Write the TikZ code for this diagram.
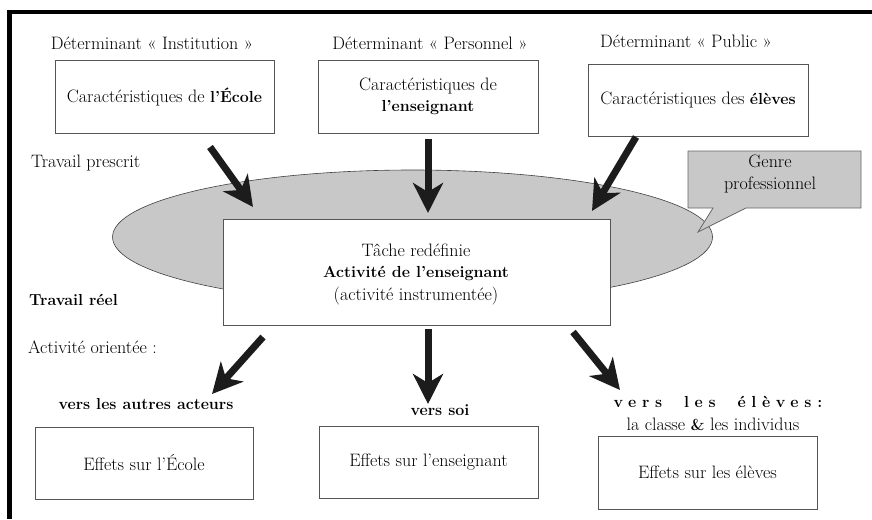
\documentclass[tikz,border=0pt]{standalone}
\usepackage{fontspec}
\setmainfont{Latin Modern Roman}
\usetikzlibrary{arrows.meta,shapes.geometric}
\definecolor{ellgray}{HTML}{C8C8C8}
\definecolor{boxline}{HTML}{555555}
\definecolor{arrowcol}{HTML}{1C1C1C}
\newcommand\bx[1]{{\fontsize{16}{20}\selectfont\bfseries #1}}
\tikzset{
  every node/.style={font=\fontsize{18}{21.5}\selectfont, inner sep=0pt},
  box/.style={draw=boxline, line width=0.8pt, fill=white, align=center},
  bigarrow/.style={draw=arrowcol, line width=7pt, -{Stealth[length=30pt,width=30pt,inset=9pt]}},
  lbl/.style={align=center},
  lftlbl/.style={anchor=west},
}
\begin{document}
\begin{tikzpicture}[x=1pt,y=-1pt]
\useasboundingbox (0,0) rectangle (872,519);
% frame (top and left only)
\draw[line width=4.5pt] (872,12) -- (9.5,12) -- (9.5,519);

% top labels
\node[lbl] (d1) at (152,43) {Déterminant « Institution »};
\node[lbl] (d2) at (430,43) {Déterminant « Personnel »};
\node[lbl] (d3) at (686,41) {Déterminant « Public »};

% top boxes
\node[box, minimum width=219pt, minimum height=73pt] (b1) at (164.5,96.5) {Caractéristiques de \bx{l’École}};
\node[box, minimum width=220pt, minimum height=73pt] (b2) at (428,96.5) {Caractéristiques de\\ \bx{l’enseignant}};
\node[box, minimum width=220pt, minimum height=72pt] (b3) at (698,100) {Caractéristiques des \bx{élèves}};

\node[lftlbl] (tp) at (31,163) {Travail prescrit};

% ellipse
\node[ellipse, draw=black!75, line width=0.6pt, fill=ellgray, minimum width=600pt, minimum height=134pt] (ell) at (412.5,237) {};

% genre professionnel callout
\draw[draw=gray!80!black, line width=0.8pt, fill=ellgray]
  (688,151) -- (861,151) -- (861,208) -- (746,208) -- (698,232) -- (713,208) -- (688,208) -- cycle;
\node[lbl] (gp) at (770,174) {Genre\\ professionnel};

% central box
\node[box, minimum width=387pt, minimum height=106pt] (cb) at (416.5,272) {};
\node[lbl] (c1) at (416,250) {Tâche redéfinie};
\node[lbl] (c2) at (416,273) {\bx{Activité de l’enseignant}};
\node[lbl] (c3) at (416,296) {(activité instrumentée)};

\node[lftlbl] (tr) at (29,300) {\bx{Travail réel}};
\node[lftlbl] (ao) at (28,347) {Activité orientée :};

% arrow endpoints
\coordinate (t1) at (210,147);
\coordinate (h1) at (253,207);
\coordinate (t2) at (428,139);
\coordinate (h2) at (428,213);
\coordinate (t3) at (636,137);
\coordinate (h3) at (592,211);
\coordinate (t4) at (263,337);
\coordinate (h4) at (212,394);
\coordinate (t5) at (428,329);
\coordinate (h5) at (428,404);
\coordinate (t6) at (573,332);
\coordinate (h6) at (620,390);

\draw[bigarrow] (t1) -- (h1);
\draw[bigarrow] (t2) -- (h2);
\draw[bigarrow] (t3) -- (h3);
\draw[bigarrow] (t4) -- (h4);
\draw[bigarrow] (t5) -- (h5);
\draw[bigarrow] (t6) -- (h6);

% bottom labels
\node[lbl] (v1) at (146,404) {\bx{vers les autres acteurs}};
\node[lbl] (v2) at (440,410) {\bx{vers soi}};
\node[lbl] (v3) at (718,402) {\bx{\addfontfeature{LetterSpace=35}vers\hspace{22pt}les\hspace{22pt}élèves\hspace{6pt}:}};
\node[lbl] (v3b) at (713,424) {la classe \bx{\&} les individus};

% bottom boxes
\node[box, minimum width=218pt, minimum height=72pt] (e1) at (144,463) {Effets sur l’École};
\node[box, minimum width=219pt, minimum height=72pt] (e2) at (428.5,462) {Effets sur l’enseignant};
\node[box, minimum width=219pt, minimum height=73pt] (e3) at (707.5,472.5) {Effets sur les élèves};
\end{tikzpicture}
\end{document}
